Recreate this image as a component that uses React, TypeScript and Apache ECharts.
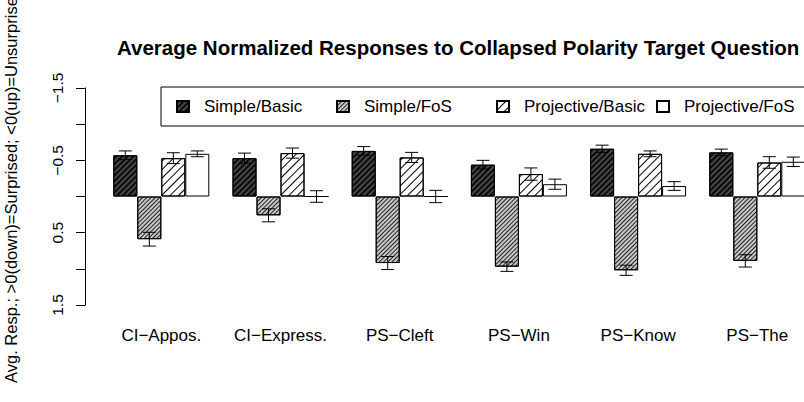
import React, { useEffect, useRef } from 'react';
import * as echarts from 'echarts';

const categories = ['CI\u2212Appos.', 'CI\u2212Express.', 'PS\u2212Cleft', 'PS\u2212Win', 'PS\u2212Know', 'PS\u2212The'];
const seriesNames = ['Simple/Basic', 'Simple/FoS', 'Projective/Basic', 'Projective/FoS'];
const simpleBasic = [-0.57, -0.53, -0.63, -0.44, -0.66, -0.61];
const simpleBasicErr = [0.06, 0.07, 0.06, 0.06, 0.05, 0.045];
const simpleFoS = [0.59, 0.26, 0.92, 0.97, 1.02, 0.89];
const simpleFoSErr = [0.095, 0.09, 0.09, 0.065, 0.07, 0.085];
const projBasic = [-0.53, -0.6, -0.54, -0.31, -0.59, -0.47];
const projBasicErr = [0.075, 0.07, 0.07, 0.085, 0.04, 0.08];
const projFoS = [-0.59, 0, 0, -0.17, -0.145, -0.48];
const projFoSErr = [0.04, 0.08, 0.085, 0.07, 0.06, 0.065];
const yTickLabels = ['\u22121.5', '', '\u22120.5', '', '0.5', '', '1.5'];

const FONT = '"Liberation Sans", Arial, Helvetica, sans-serif';
const BAR_W = 24;

export default function App() {
  const ref = useRef<HTMLDivElement>(null);
  useEffect(() => {
    if (!ref.current) return;
    const chart = echarts.init(ref.current, undefined, { renderer: 'svg' });
    const means = [simpleBasic, simpleFoS, projBasic, projFoS];
    const errs = [simpleBasicErr, simpleFoSErr, projBasicErr, projFoSErr];
    const fills = ['#484848', '#c8c8c8', '#ffffff', '#ffffff'];
    const decals: any[] = [
      { symbol: 'rect', symbolSize: 1, color: '#0a0a0a', dashArrayX: [1, 0], dashArrayY: [1.7, 1.1], rotation: -Math.PI / 4 },
      { symbol: 'rect', symbolSize: 1, color: '#222', dashArrayX: [1, 0], dashArrayY: [1, 1.6], rotation: -Math.PI / 4 },
      { symbol: 'rect', symbolSize: 1, color: '#000', dashArrayX: [1, 0], dashArrayY: [1, 4.2], rotation: -Math.PI / 4 },
      null,
    ];
    const barSeries = seriesNames.map((name, i) => {
      const itemStyle: any = { color: fills[i], borderColor: '#000', borderWidth: 1 };
      if (decals[i]) itemStyle.decal = decals[i];
      return {
        type: 'bar',
        name,
        data: means[i],
        barWidth: BAR_W,
        barGap: '0%',
        itemStyle,
        emphasis: { disabled: true },
        z: 2,
      };
    });
    const errData: number[][] = [];
    means.forEach((m, s) => {
      m.forEach((v, c) => {
        errData.push([c, s, v - errs[s][c], v + errs[s][c]]);
      });
    });
    const lineStyle = { stroke: '#000', lineWidth: 1 };
    const errSeries = {
      type: 'custom',
      name: 'err',
      data: errData,
      encode: { x: 0, y: 2 },
      z: 5,
      silent: true,
      renderItem: (params: any, api: any) => {
        const c = api.value(0);
        const s = api.value(1);
        const lo = api.coord([c, api.value(2)]);
        const hi = api.coord([c, api.value(3)]);
        const x = lo[0] + (s - 1.5) * BAR_W;
        const cap = 6.5;
        return {
          type: 'group',
          children: [
            { type: 'line', shape: { x1: x, y1: lo[1], x2: x, y2: hi[1] }, style: lineStyle },
            { type: 'line', shape: { x1: x - cap, y1: lo[1], x2: x + cap, y2: lo[1] }, style: lineStyle },
            { type: 'line', shape: { x1: x - cap, y1: hi[1], x2: x + cap, y2: hi[1] }, style: lineStyle },
          ],
        };
      },
    };
    const option: any = {
      animation: false,
      backgroundColor: '#fff',
      textStyle: { fontFamily: FONT },
      title: {
        text: 'Average Normalized Responses to Collapsed Polarity Target Question',
        left: 117,
        top: 37,
        padding: 0,
        textStyle: { fontSize: 20.5, fontWeight: 'bold', color: '#000', fontFamily: FONT },
      },
      legend: {
        data: seriesNames,
        left: 161,
        top: 87,
        width: 720,
        orient: 'horizontal',
        icon: 'rect',
        itemWidth: 12,
        itemHeight: 11,
        itemGap: 0,
        padding: [11, 30, 11, 15],
        borderColor: '#000',
        borderWidth: 1,
        selectedMode: false,
        textStyle: { fontSize: 17, color: '#000', fontFamily: FONT, width: 132, padding: [0, 0, 0, 10], lineHeight: 17 },
      },
      grid: { left: 101.7, right: -12.9, top: 88, bottom: 97, containLabel: false, outerBoundsMode: 'none' },
      xAxis: {
        type: 'category',
        data: categories,
        axisLine: { show: false, onZero: false },
        axisTick: { show: false },
        splitLine: { show: false },
        axisLabel: { interval: 0, fontSize: 17, color: '#000', margin: 22, fontFamily: FONT },
      },
      yAxis: {
        type: 'value',
        inverse: true,
        min: -1.5,
        max: 1.5,
        interval: 0.5,
        offset: 16.7,
        name: 'Avg. Resp.; >0(down)=Surprised; <0(up)=Unsurprised',
        nameLocation: 'middle',
        nameGap: 66,
        nameTextStyle: { fontSize: 16.5, color: '#000', fontFamily: FONT, padding: [0, 0, 0, 22] },
        axisLine: { show: true, lineStyle: { color: '#000', width: 1 } },
        axisTick: { show: true, length: 9, lineStyle: { color: '#000', width: 1 } },
        splitLine: { show: false },
        axisLabel: {
          rotate: 90,
          margin: 20,
          fontSize: 15.5,
          color: '#000',
          fontFamily: FONT,
          formatter: (_v: number, i: number) => yTickLabels[i] ?? '',
        },
      },
      series: [...barSeries, errSeries],
    };
    chart.setOption(option);
    return () => chart.dispose();
  }, []);
  return (
    <div
      ref={ref}
      style={{ position: 'fixed', left: 0, top: 0, width: 804, height: 402, background: '#fff' }}
    />
  );
}
